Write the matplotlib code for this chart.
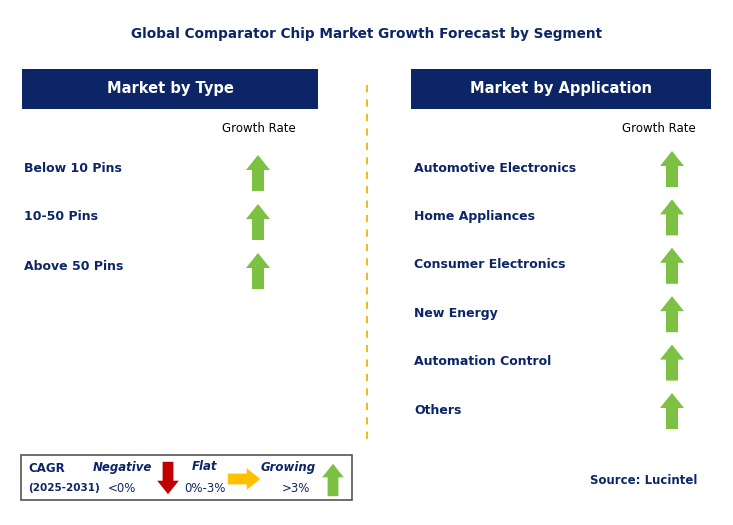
import matplotlib
matplotlib.use("Agg")
import matplotlib.pyplot as plt
from matplotlib.patches import Rectangle, Polygon

TITLE = "Global Comparator Chip Market Growth Forecast by Segment"
TYPE_ITEMS = ["Below 10 Pins", "10-50 Pins", "Above 50 Pins"]
TYPE_TREND = ["up", "up", "up"]
APP_ITEMS = ["Automotive Electronics", "Home Appliances", "Consumer Electronics",
             "New Energy", "Automation Control", "Others"]
APP_TREND = ["up", "up", "up", "up", "up", "up"]

NAVY = "#0b2566"
GREEN = "#7dc142"
RED = "#c00000"
YELLOW = "#ffc000"
FONT = "DejaVu Sans"

fig = plt.figure(figsize=(7.33, 5.25), dpi=100)
ax = fig.add_axes([0, 0, 1, 1])
ax.set_xlim(0, 733); ax.set_ylim(525, 0); ax.axis("off")


def arrow(cx, cy, d, color, size=1.0):
    # d: up / down / right ; cx, cy centre in pixels
    h, hw, sw, hl = 36 * size, 24 * size, 12 * size, 15 * size
    if d == "right":
        pts = [(-h/2, -sw/2), (h/2 - hl, -sw/2), (h/2 - hl, -hw/2), (h/2, 0),
               (h/2 - hl, hw/2), (h/2 - hl, sw/2), (-h/2, sw/2)]
    else:
        s = -1 if d == "up" else 1
        pts = [(-sw/2, -s*h/2), (-sw/2, s*(h/2 - hl)), (-hw/2, s*(h/2 - hl)), (0, s*h/2),
               (hw/2, s*(h/2 - hl)), (sw/2, s*(h/2 - hl)), (sw/2, -s*h/2)]
    ax.add_patch(Polygon([(cx + x, cy + y) for x, y in pts], closed=True,
                         facecolor=color, edgecolor="none"))


ax.text(367, 34, TITLE, ha="center", va="center", fontsize=9.8, fontweight="bold",
        color=NAVY, family=FONT)

for x0, x1, label in [(22, 318, "Market by Type"), (411, 711, "Market by Application")]:
    ax.add_patch(Rectangle((x0, 69), x1 - x0, 40, facecolor=NAVY, edgecolor="none"))
    ax.text((x0 + x1) / 2, 89, label, ha="center", va="center", fontsize=10.5,
            fontweight="bold", color="white", family=FONT)

ax.plot([367, 367], [85, 440], color="#f0b400", lw=1.3, ls=(0, (4, 4)))

ax.text(259, 128, "Growth Rate", ha="center", va="center", fontsize=8.5, color="black", family=FONT)
ax.text(659, 128, "Growth Rate", ha="center", va="center", fontsize=8.5, color="black", family=FONT)

for i, (name, tr) in enumerate(zip(TYPE_ITEMS, TYPE_TREND)):
    y = 168 + i * 49
    ax.text(24, y, name, ha="left", va="center", fontsize=9, fontweight="bold",
            color=NAVY, family=FONT)
    arrow(258, y + 5, tr, GREEN)

for i, (name, tr) in enumerate(zip(APP_ITEMS, APP_TREND)):
    y = 168 + i * 48.4
    ax.text(414, y, name, ha="left", va="center", fontsize=9, fontweight="bold",
            color=NAVY, family=FONT)
    arrow(672, y + 1, tr, GREEN)

# legend box
ax.add_patch(Rectangle((21, 455), 331, 45, facecolor="white", edgecolor="#555555", lw=1.2))
ax.text(28, 468, "CAGR", fontsize=8.5, fontweight="bold", color=NAVY, va="center", family=FONT)
ax.text(28, 488, "(2025-2031)", fontsize=7.5, fontweight="bold", color=NAVY, va="center", family=FONT)
ax.text(122, 467, "Negative", fontsize=8.5, fontweight="bold", style="italic", color=NAVY,
        ha="center", va="center", family=FONT)
ax.text(122, 489, "<0%", fontsize=8.5, color=NAVY, ha="center", va="center", family=FONT)
arrow(168, 478, "down", RED, 0.9)
ax.text(204, 467, "Flat", fontsize=8.5, fontweight="bold", style="italic", color=NAVY,
        ha="center", va="center", family=FONT)
ax.text(205, 489, "0%-3%", fontsize=8.5, color=NAVY, ha="center", va="center", family=FONT)
arrow(244, 479, "right", YELLOW, 0.9)
ax.text(288, 467, "Growing", fontsize=8.5, fontweight="bold", style="italic", color=NAVY,
        ha="center", va="center", family=FONT)
ax.text(296, 489, ">3%", fontsize=8.5, color=NAVY, ha="center", va="center", family=FONT)
arrow(333, 480, "up", GREEN, 0.9)

ax.text(697, 480, "Source: Lucintel", ha="right", va="center", fontsize=8.5, fontweight="bold",
        color=NAVY, family=FONT)

fig.savefig("out.png", dpi=100)
